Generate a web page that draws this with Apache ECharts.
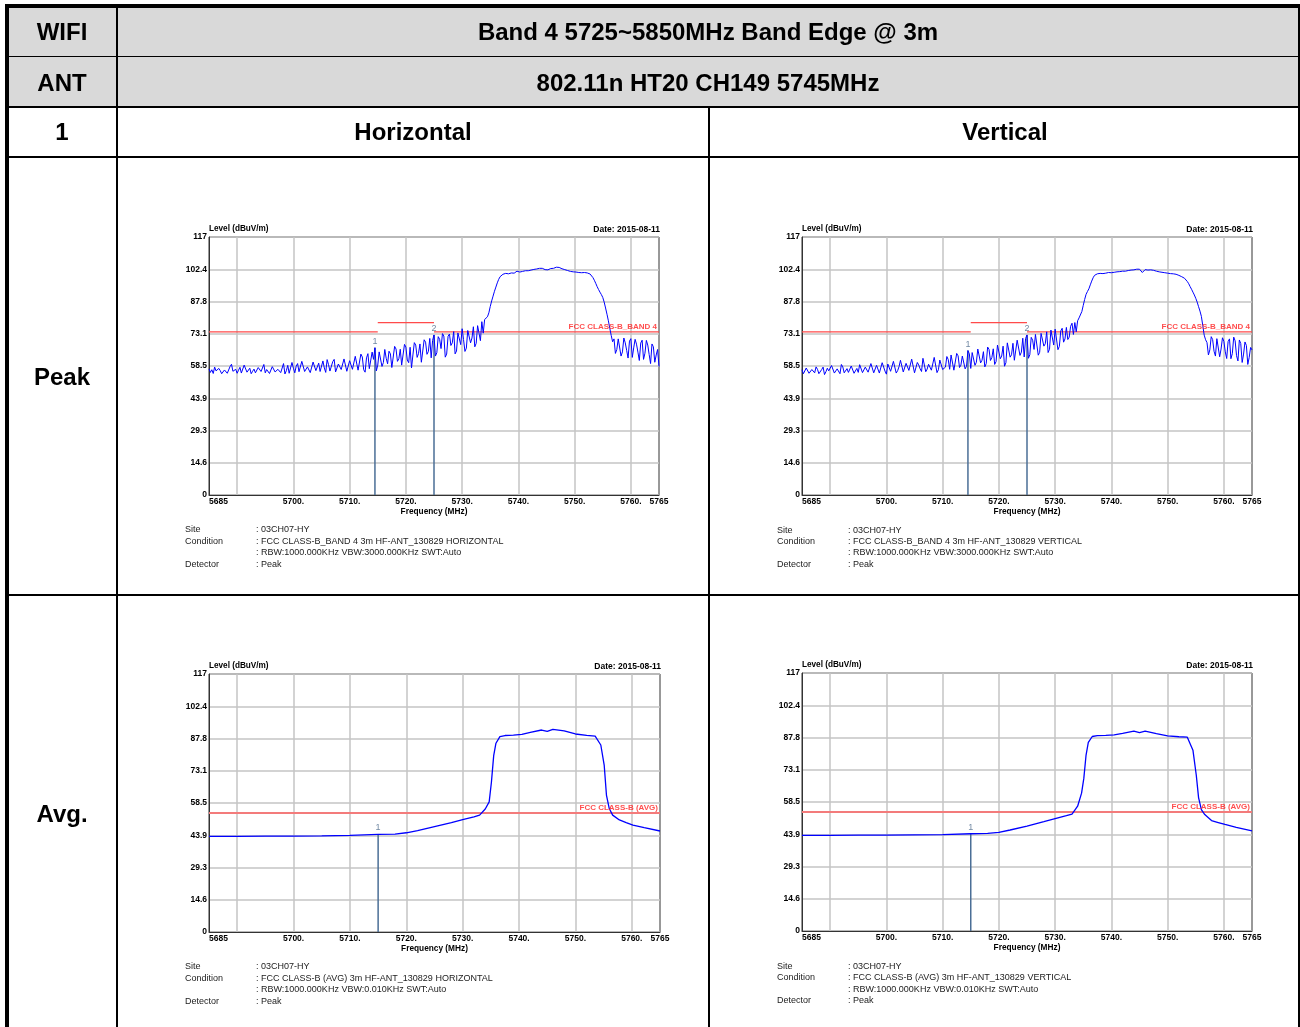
<!DOCTYPE html>
<html>
<head>
<meta charset="utf-8">
<title>Band Edge 5725~5850MHz</title>
<script src="https://cdn.jsdelivr.net/npm/echarts@6/dist/echarts.min.js"></script>
<style>
  html, body { margin: 0; padding: 0; background: #fff; }
  #page { position: relative; width: 1300px; height: 1027px; overflow: hidden;
          font-family: Arial, "Liberation Sans", sans-serif; }
  .fill { position: absolute; background: #d9d9d9; }
  .rule { position: absolute; background: #000; }
  .head { position: absolute; transform: translate(-50%, -50%); font-weight: bold;
          font-size: 24px; color: #000; white-space: nowrap; }
  .info { position: absolute; font-size: 9px; color: #222; white-space: pre;
          line-height: 11px; transform: translateY(-50%); }
  #chart { position: absolute; left: 0; top: 0; width: 1300px; height: 1027px; }
</style>
</head>
<body>
<div id="page">
  <div class="fill" style="left:9px;top:8px;width:1289px;height:98px;"></div>
  <div id="chart"></div>
</div>
<script>
// ---- sweep data (dBuV/m) ----
const sweepStart = 5685;   // MHz
const sweepStep = 0.25;    // MHz per point of the peak sweeps

const peakLevelH = [
  // 5685.00 - 5700.00
  57.2, 55.6, 56.8, 55.1, 58.0, 56.3, 55.8, 57.4, 56.4, 55.0, 54.9, 56.7, 57.6, 55.2, 55.5, 58.3,
  59.3, 56.1, 56.0, 57.0, 55.2, 56.6, 57.9, 55.3, 55.6, 58.9, 58.4, 55.7, 56.2, 57.5, 55.0, 56.1,
  57.1, 55.4, 54.8, 57.8, 58.6, 56.0, 56.3, 59.2, 55.4, 56.9, 57.8, 55.1, 55.9, 58.2, 59.0, 55.8,
  55.3, 57.0, 57.4, 55.5, 56.1, 59.6, 54.9, 56.4, 58.8, 55.2, 55.7, 60.1, 57.5,
  // 5700.25 - 5710.00
  55.4, 58.4, 59.6, 55.9, 56.8, 60.6, 60.4, 56.0, 55.9, 58.1, 58.7, 55.5, 55.2, 60.3, 61.0, 56.4,
  57.3, 59.8, 56.0, 55.4, 60.8, 57.6, 55.6, 61.4, 59.1, 56.2, 57.0, 60.5, 61.5, 55.8, 55.8, 59.4,
  60.2, 56.9, 56.4, 61.7, 62.0, 56.1, 55.5, 60.9,
  // 5710.25 - 5715.00
  61.8, 57.0, 56.2, 62.9, 63.4, 56.6, 57.5, 63.9, 62.6, 56.8, 55.7, 62.2, 64.1, 57.3, 58.0, 64.8,
  61.5, 66.8, 56.3, 58.9,
  // 5715.25 - 5725.00
  64.9, 65.3, 58.3, 60.1, 66.0, 62.0, 59.5, 65.2, 64.0, 57.8, 58.6, 67.4, 66.2, 60.6, 61.8, 66.1,
  58.9, 59.7, 68.3, 67.1, 61.2, 60.0, 67.0, 57.6, 63.5, 69.1, 68.0, 62.4, 64.2, 68.5, 60.2, 61.0,
  70.4, 69.3, 63.8, 65.1, 71.0, 62.2, 70.1, 72.6,
  // 5725.25 - 5733.00
  63.0, 64.5, 71.8, 70.6, 66.4, 73.2, 72.1, 62.5, 63.9, 72.0, 73.0, 67.8, 69.0, 74.1, 64.0, 65.3,
  73.5, 74.4, 68.2, 75.4, 70.5, 65.1, 66.6, 74.6, 75.0, 69.0, 71.2, 76.3, 67.2, 68.8, 76.8, 77.5,
  // 5733.25 - 5734.00
  70.0, 78.6, 73.4, 79.6,
  // 5734.25 - 5756.50
  80.2, 80.8, 82.6,
  85.5, 88.0, 90.2, 92.4,  94.3, 96.2, 97.8, 99.0,  99.7, 100.1, 100.2, 100.5,
  100.4, 100.3, 100.6, 100.7,  100.5, 100.6, 100.9, 101.5,  101.0, 101.1, 101.3, 101.4,
  101.6, 101.7, 101.5, 101.7,  101.9, 102.0, 102.2, 102.3,  102.4, 102.5, 102.7, 102.8,
  102.9, 102.8, 102.6, 102.2,  101.8, 102.1, 102.5, 102.7,  102.9, 102.8, 103.1, 103.3,
  103.9, 103.2, 102.8, 102.6,  102.4, 102.2, 102.0, 101.8,  101.6, 101.4, 101.3, 101.2,
  101.2, 101.1, 101.0, 100.9,  100.9, 100.8, 100.8, 100.9,  100.8, 100.7, 100.6, 100.2,
  99.6, 98.6, 97.4, 96.0,  94.5, 93.2, 92.0, 90.9,  89.6, 87.5, 84.8, 82.0,
  79.0, 75.6, 72.4,
  // 5756.75 - 5765.00
  69.5, 70.8, 64.2, 66.0, 70.8, 71.3, 63.0, 64.9, 71.2, 69.0, 65.6, 62.1, 69.8, 70.9, 62.4, 66.7,
  70.6, 68.4, 64.8, 61.0, 68.9, 70.2, 61.5, 64.3, 70.1, 68.0, 63.7, 59.6, 68.5, 67.2, 60.2, 63.5,
  66.0, 58.3
];

const peakLevelV = [
  // 5685.00 - 5700.00
  56.8, 55.0, 55.3, 57.6, 57.9, 55.2, 54.7, 56.9, 56.2, 55.4, 58.1, 57.0, 55.0, 54.8, 56.9, 58.0,
  54.6, 55.9, 57.5, 56.3, 55.8, 58.7, 58.4, 55.3, 55.1, 57.2, 56.7, 55.0, 59.2, 58.1, 55.4, 56.0,
  57.3, 55.6, 54.9, 58.5, 58.7, 55.2, 56.1, 57.4, 55.6, 59.1, 59.5, 55.5, 55.0, 58.0, 57.8, 55.7,
  56.4, 59.6, 59.9, 55.4, 55.2, 58.8, 58.3, 55.3, 55.7, 60.0, 60.3, 56.2, 54.8,
  // 5700.25 - 5710.00
  59.4, 58.6, 56.1, 55.8, 60.6, 60.0, 55.3, 56.4, 58.2, 61.1, 60.4, 55.8, 56.7, 59.7, 58.8, 56.5,
  55.9, 61.6, 60.9, 55.4, 56.3, 60.1, 59.0, 57.2, 56.0, 62.0, 61.2, 55.9, 57.1, 59.3, 58.5, 56.6,
  56.2, 62.4, 61.8, 55.5, 56.8, 61.2, 60.3, 56.9,
  // 5710.25 - 5715.00
  56.3, 58.0, 62.8, 61.4, 57.0, 63.5, 62.7, 56.6, 55.9, 64.2, 63.1, 57.8, 58.9, 63.0, 62.2, 57.2,
  58.4, 65.5, 64.0, 57.4,
  // 5715.25 - 5725.00
  64.6, 63.8, 58.8, 60.2, 66.2, 65.4, 59.9, 61.1, 65.0, 58.1, 59.6, 67.1, 66.0, 61.0, 62.3, 66.3,
  59.2, 60.5, 68.0, 67.2, 61.8, 63.0, 67.5, 58.4, 60.0, 69.0, 68.1, 62.5, 63.6, 68.8, 61.1, 62.0,
  70.2, 69.4, 63.3, 64.8, 71.1, 62.6, 71.0, 72.6,
  // 5725.25 - 5733.00
  62.0, 63.6, 71.5, 70.2, 66.0, 72.8, 71.9, 63.4, 64.7, 73.3, 72.5, 67.5, 68.6, 74.0, 64.6, 66.1,
  74.8, 73.9, 68.0, 75.2, 74.3, 65.9, 67.4, 74.4, 75.6, 69.3, 70.8, 76.0, 70.5, 71.6, 76.5, 77.9,
  // 5733.25 - 5734.00
  72.8, 78.2, 74.0, 79.0,
  // 5734.25 - 5756.50
  80.3, 80.9, 83.2,
  86.0, 88.7, 91.0, 92.3,  93.5, 95.3, 97.0, 98.5,  99.6, 100.0, 100.3, 100.4,
  100.5, 100.3, 100.4, 100.5,  100.6, 100.8, 100.9, 100.7,  100.8, 101.2, 101.0, 100.9,
  101.2, 101.3, 101.3, 101.4,  101.5, 101.6, 101.5, 101.7,  101.8, 101.9, 102.0, 101.9,
  102.1, 102.3, 102.4, 102.6,  102.4, 101.6, 100.9, 101.7,  102.2, 102.1, 102.0, 102.3,
  102.1, 102.0, 101.9, 101.8,  101.5, 101.4, 101.2, 101.1,  101.0, 100.9, 100.8, 100.8,
  100.6, 100.7, 100.4, 100.5,  100.3, 100.2, 100.1, 100.3,  99.6, 99.4, 99.0, 98.7,
  98.3, 97.6, 96.8, 95.8,  94.5, 93.3, 92.0, 90.7,  89.2, 87.5, 85.4, 83.4,
  81.0, 76.8, 72.5,
  // 5756.75 - 5765.00
  70.4, 69.1, 63.5, 65.8, 71.8, 70.5, 65.2, 63.0, 70.9, 71.5, 62.7, 66.2, 71.3, 69.7, 64.9, 61.9,
  69.6, 70.8, 61.8, 64.1, 71.6, 69.9, 63.2, 60.8, 70.3, 68.7, 60.1, 63.9, 69.4, 67.8, 59.2, 62.4,
  66.9, 65.8
];

const avgFreq = [
  5685, 5690, 5695, 5700, 5705, 5710, 5715, 5718, 5720, 5722, 5725, 5728, 5730, 5732, 5733, 5734,
  5734.7, 5735.1, 5735.5, 5735.9, 5736.6, 5737.5, 5739, 5740.5, 5742, 5744, 5745, 5746, 5748, 5750,
  5752, 5753.5, 5754.5, 5755.1, 5755.5, 5756, 5756.6, 5757.8, 5759, 5760.2, 5762.2, 5765
];
const avgLevelH = [
  43.4, 43.4, 43.5, 43.5, 43.6, 43.8, 44.3, 44.4, 45.0, 46.0, 47.8, 49.6, 51.0, 52.2, 53.0, 55.8,
  59.0, 68.0, 80.0, 85.6, 88.6, 89.1, 89.3, 89.6, 90.5, 91.6, 91.0, 91.9, 91.2, 89.8,
  89.2, 88.8, 84.8, 75.7, 62.1, 56.0, 53.0, 50.8, 49.6, 48.5, 47.3, 45.8
];
const avgLevelV = [
  43.4, 43.4, 43.5, 43.5, 43.6, 43.7, 44.1, 44.3, 44.7, 45.8, 47.6, 49.6, 51.0, 52.3, 53.0, 56.6,
  62.5, 69.2, 79.8, 85.5, 88.2, 88.6, 88.7, 88.9, 89.6, 90.6, 90.0, 90.6, 89.5, 88.5,
  88.1, 87.9, 82.0, 70.5, 60.5, 55.0, 52.8, 50.1, 49.2, 48.3, 47.0, 45.4
];

// limit lines
const peakLimitFrom  = [5685, 5715, 5725];
const peakLimitTo    = [5715, 5725, 5765];
const peakLimitLevel = [74, 78.2, 74];
const avgLimitFrom  = [5685];
const avgLimitTo    = [5765];
const avgLimitLevel = [54];

// markers
const peakMarkerFreqH  = [5714.5, 5725];
const peakMarkerLevelH = [66.8, 72.6];
const peakMarkerFreqV  = [5714.5, 5725];
const peakMarkerLevelV = [65.5, 72.6];
const avgMarkerFreq    = [5715];
const avgMarkerLevelH  = [44.3];
const avgMarkerLevelV  = [44.1];

// axes
const xGridFreq  = [5690, 5700, 5710, 5720, 5730, 5740, 5750, 5760];
const xLabelFreq = [5685, 5700, 5710, 5720, 5730, 5740, 5750, 5760, 5765];
const xLabelText = ['5685', '5700.', '5710.', '5720.', '5730.', '5740.', '5750.', '5760.', '5765'];
const yGridLevel = [0, 14.625, 29.25, 43.875, 58.5, 73.125, 87.75, 102.375, 117];
const yLabelText = ['0', '14.6', '29.3', '43.9', '58.5', '73.1', '87.8', '102.4', '117'];

// header table text
const headRows = [
  ['WIFI', 'Band 4 5725~5850MHz Band Edge @ 3m'],
  ['ANT', '802.11n HT20 CH149 5745MHz'],
  ['1', 'Horizontal', 'Vertical'],
  ['Peak'],
  ['Avg.']
];

// measurement notes under each plot
const infoLabels = ['Site', 'Condition', '', 'Detector'];
const infoPeakH = [': 03CH07-HY', ': FCC CLASS-B_BAND 4 3m HF-ANT_130829 HORIZONTAL',
                   ': RBW:1000.000KHz VBW:3000.000KHz SWT:Auto', ': Peak'];
const infoPeakV = [': 03CH07-HY', ': FCC CLASS-B_BAND 4 3m HF-ANT_130829 VERTICAL',
                   ': RBW:1000.000KHz VBW:3000.000KHz SWT:Auto', ': Peak'];
const infoAvgH  = [': 03CH07-HY', ': FCC CLASS-B (AVG) 3m HF-ANT_130829 HORIZONTAL',
                   ': RBW:1000.000KHz VBW:0.010KHz SWT:Auto', ': Peak'];
const infoAvgV  = [': 03CH07-HY', ': FCC CLASS-B (AVG) 3m HF-ANT_130829 VERTICAL',
                   ': RBW:1000.000KHz VBW:0.010KHz SWT:Auto', ': Peak'];

const plotDate = 'Date: 2015-08-11';

// ---- table frame ----
const page = document.getElementById('page');
function addRule(l, t, w, h) {
  const d = document.createElement('div');
  d.className = 'rule';
  d.style.cssText = `left:${l}px;top:${t}px;width:${w}px;height:${h}px;`;
  page.insertBefore(d, document.getElementById('chart'));
}
addRule(5, 4, 1295, 4);      // top
addRule(5, 4, 4, 1023);      // left
addRule(1298, 4, 2, 1023);   // right
addRule(116, 8, 2, 1019);    // first column
addRule(708, 107, 2, 920);   // H / V split
addRule(9, 56, 1289, 1);
addRule(9, 106, 1289, 2);
addRule(9, 156, 1289, 2);
addRule(9, 594, 1289, 2);

function addText(cls, x, y, txt) {
  const d = document.createElement('div');
  d.className = cls;
  d.style.left = x + 'px';
  d.style.top = y + 'px';
  d.textContent = txt;
  page.appendChild(d);
}
addText('head', 62, 32, headRows[0][0]);
addText('head', 708, 32, headRows[0][1]);
addText('head', 62, 83, headRows[1][0]);
addText('head', 708, 83, headRows[1][1]);
addText('head', 62, 132, headRows[2][0]);
addText('head', 413, 132, headRows[2][1]);
addText('head', 1005, 132, headRows[2][2]);
addText('head', 62, 377, headRows[3][0]);
addText('head', 62, 814, headRows[4][0]);

function addInfo(x, ys, values) {
  for (let i = 0; i < infoLabels.length; i++) {
    if (infoLabels[i]) addText('info', x, ys[i], infoLabels[i]);
    addText('info', x + 71, ys[i], values[i]);
  }
}
addInfo(185, [529, 541, 552, 564], infoPeakH);
addInfo(777, [530, 541, 552, 564], infoPeakV);
addInfo(185, [966, 978, 989, 1001], infoAvgH);
addInfo(777, [966, 977, 989, 1000], infoAvgV);

// ---- plots ----
const FONT = 'Arial, "Liberation Sans", sans-serif';
const sweepFreq = peakLevelH.map((_, i) => sweepStart + i * sweepStep);

const panels = [
  { left: 209, top: 237, width: 450, height: 258, freq: sweepFreq, level: peakLevelH, lw: 1,
    limFrom: peakLimitFrom, limTo: peakLimitTo, limLevel: peakLimitLevel, limName: 'FCC CLASS-B_BAND 4',
    limColor: '#ff4a4a', limWidth: 1.3, mkFreq: peakMarkerFreqH, mkLevel: peakMarkerLevelH },
  { left: 802, top: 237, width: 450, height: 258, freq: sweepFreq, level: peakLevelV, lw: 1,
    limFrom: peakLimitFrom, limTo: peakLimitTo, limLevel: peakLimitLevel, limName: 'FCC CLASS-B_BAND 4',
    limColor: '#ff4a4a', limWidth: 1.3, mkFreq: peakMarkerFreqV, mkLevel: peakMarkerLevelV },
  { left: 209, top: 674, width: 451, height: 258, freq: avgFreq, level: avgLevelH, lw: 1.3,
    limFrom: avgLimitFrom, limTo: avgLimitTo, limLevel: avgLimitLevel, limName: 'FCC CLASS-B (AVG)',
    limColor: '#f37b7b', limWidth: 2, mkFreq: avgMarkerFreq, mkLevel: avgMarkerLevelH },
  { left: 802, top: 673, width: 450, height: 258, freq: avgFreq, level: avgLevelV, lw: 1.3,
    limFrom: avgLimitFrom, limTo: avgLimitTo, limLevel: avgLimitLevel, limName: 'FCC CLASS-B (AVG)',
    limColor: '#f37b7b', limWidth: 2, mkFreq: avgMarkerFreq, mkLevel: avgMarkerLevelV }
];

const axisText = { fontFamily: FONT, fontSize: 8.5, fontWeight: 'bold', color: '#000' };
const grids = [], xAxes = [], yAxes = [], titles = [], series = [];

panels.forEach((p, k) => {
  grids.push({ left: p.left, top: p.top, width: p.width, height: p.height,
               show: true, borderColor: '#333', borderWidth: 1, backgroundColor: 'transparent' });
  xAxes.push({
    type: 'value', gridIndex: k, min: 5685, max: 5765,
    axisLine: { show: true, onZero: false, lineStyle: { color: '#333', width: 1 } },
    axisTick: { show: false, customValues: xGridFreq },
    splitLine: { show: true, lineStyle: { color: '#c4c4c4', width: 1.5 } },
    axisLabel: Object.assign({
      customValues: xLabelFreq, margin: 2, hideOverlap: false,
      showMinLabel: true, showMaxLabel: true,
      alignMinLabel: 'left', alignMaxLabel: 'center',
      formatter: v => xLabelText[xLabelFreq.indexOf(v)]
    }, axisText),
    name: 'Frequency (MHz)', nameLocation: 'middle', nameGap: 13,
    nameTextStyle: Object.assign({}, axisText, { fontSize: 8.3 })
  });
  yAxes.push({
    type: 'value', gridIndex: k, min: 0, max: 117,
    axisLine: { show: true, onZero: false, lineStyle: { color: '#333', width: 1 } },
    axisTick: { show: false, customValues: yGridLevel },
    splitLine: { show: true, lineStyle: { color: '#c4c4c4', width: 1.5 } },
    axisLabel: Object.assign({
      customValues: yGridLevel, margin: 2, hideOverlap: false,
      showMinLabel: true, showMaxLabel: true,
      formatter: v => yLabelText[yGridLevel.indexOf(v)]
    }, axisText),
    name: 'Level (dBuV/m)', nameLocation: 'end', nameGap: 3,
    nameTextStyle: Object.assign({}, axisText, { fontSize: 8.2, align: 'left', verticalAlign: 'middle' })
  });
  titles.push({
    text: plotDate, right: 1300 - (p.left + p.width) - 1, top: p.top - 12, padding: 0,
    textStyle: Object.assign({}, axisText)
  });

  // limit line segments
  for (let s = 0; s < p.limLevel.length; s++) {
    series.push({
      type: 'line', xAxisIndex: k, yAxisIndex: k, symbol: 'none', silent: true, z: 2,
      lineStyle: { color: p.limColor, width: p.limWidth },
      data: [[p.limFrom[s], p.limLevel[s]], [p.limTo[s], p.limLevel[s]]]
    });
  }
  const lastSeg = p.limLevel.length - 1;
  series.push({
    type: 'scatter', xAxisIndex: k, yAxisIndex: k, symbolSize: 0, silent: true, z: 6,
    data: [[p.limTo[lastSeg], p.limLevel[lastSeg]]],
    label: { show: true, position: 'top', align: 'right', distance: 1, offset: [-2, 0],
             formatter: p.limName, fontFamily: FONT, fontSize: 8, fontWeight: 'bold', color: '#ff2020' }
  });

  // markers
  p.mkFreq.forEach((f, m) => {
    series.push({
      type: 'line', xAxisIndex: k, yAxisIndex: k, symbol: 'none', silent: true, z: 3,
      lineStyle: { color: '#4a6e96', width: 1.5 },
      data: [[f, 0], [f, p.mkLevel[m]]]
    });
    series.push({
      type: 'scatter', xAxisIndex: k, yAxisIndex: k, symbolSize: 0, silent: true, z: 6,
      data: [[f, p.mkLevel[m]]],
      label: { show: true, position: 'top', distance: 2, formatter: String(m + 1),
               fontFamily: FONT, fontSize: 9, color: '#4f6b8c' }
    });
  });

  // measured trace
  series.push({
    type: 'line', xAxisIndex: k, yAxisIndex: k, symbol: 'none', silent: true, z: 5,
    lineStyle: { color: '#0000ff', width: p.lw },
    data: p.level.map((v, i) => [p.freq[i], v])
  });
});

const chart = echarts.init(document.getElementById('chart'));
chart.setOption({
  animation: false,
  backgroundColor: 'transparent',
  title: titles,
  grid: grids,
  xAxis: xAxes,
  yAxis: yAxes,
  series: series
});
</script>
</body>
</html>
